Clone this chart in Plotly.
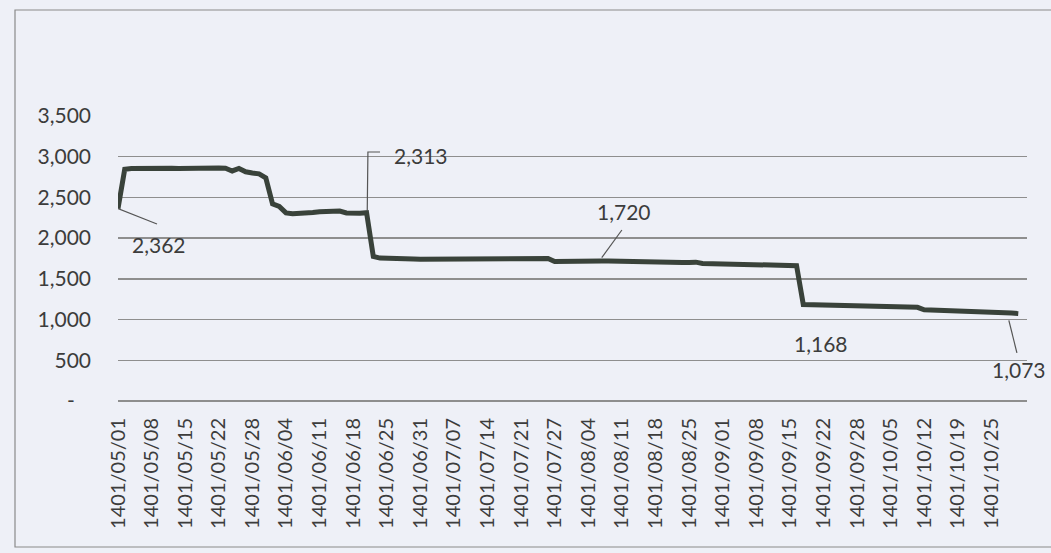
import plotly.graph_objects as go

# ---- data ----
tick_labels = ["1401/05/01", "1401/05/08", "1401/05/15", "1401/05/22", "1401/05/28",
               "1401/06/04", "1401/06/11", "1401/06/18", "1401/06/25", "1401/06/31",
               "1401/07/07", "1401/07/14", "1401/07/21", "1401/07/27", "1401/08/04",
               "1401/08/11", "1401/08/18", "1401/08/25", "1401/09/01", "1401/09/08",
               "1401/09/15", "1401/09/22", "1401/09/28", "1401/10/05", "1401/10/12",
               "1401/10/19", "1401/10/25"]
tick_step = 5

values = [
    2362, 2845, 2855, 2858, 2860, 2860, 2862, 2860, 2858, 2855,
    2858, 2860, 2862, 2862, 2860, 2860, 2858, 2825, 2855, 2815,
    2800, 2790, 2740, 2420, 2390, 2310, 2300, 2300, 2305, 2315,
    2325, 2328, 2330, 2332, 2310, 2300, 2305, 2313, 1775, 1755,
    1750, 1760, 1748, 1745, 1745, 1742, 1742, 1740, 1744, 1740,
    1738, 1740, 1742, 1738, 1735, 1738, 1740, 1742, 1740, 1738,
    1736, 1738, 1740, 1745, 1750, 1712, 1715, 1718, 1720, 1722,
    1720, 1718, 1720, 1718, 1715, 1715, 1712, 1710, 1712, 1710,
    1708, 1705, 1705, 1702, 1700, 1702, 1705, 1690, 1688, 1685,
    1672, 1670, 1668, 1670, 1668, 1668, 1665, 1665, 1663, 1665,
    1663, 1662, 1185, 1183, 1180, 1178, 1178, 1180, 1182, 1172,
    1170, 1168, 1166, 1165, 1163, 1160, 1158, 1157, 1155, 1150,
    1120, 1118, 1115, 1113, 1112, 1110, 1108, 1105, 1103, 1100,
    1095, 1090, 1088, 1080, 1073,
]

y_ticks = [0, 500, 1000, 1500, 2000, 2500, 3000, 3500]
y_tick_text = ["-\u00a0\u00a0\u00a0", "500", "1,000", "1,500", "2,000", "2,500", "3,000", "3,500"]

# labelled points: (index, label text, text x, text y)
labels = [
    (0, "2,362", 6.1, 1916),
    (37, "2,313", 45.1, 3021),
    (72, "1,720", 75.3, 2333),
    (102, "1,168", 104.7, 712),
    (134, "1,073", 134.1, 381),
]

idx = list(range(len(values)))
tickvals = [i * tick_step for i in range(len(tick_labels))]

FONT = "Lato, 'Open Sans', sans-serif"
TXT = "#3c3c3c"
GRID = "#8e8e8e"
BG = "#eef0f7"

W, H = 1051, 553

fig = go.Figure()
fig.add_trace(go.Scatter(
    x=idx, y=values, mode="lines",
    line=dict(color="#39423a", width=5),
    hoverinfo="skip", showlegend=False,
))

# leader lines
leaders = [
    [(0, 2362), (5.8, 2174)],
    [(39.0, 3058), (37.2, 3058), (37.1, 2340)],
    [(75.0, 2100), (72.0, 1760)],
    [(132.6, 990), (133.8, 590)],
]
shapes = []
for pts in leaders:
    path = "M " + " L ".join(f"{x},{y}" for x, y in pts)
    shapes.append(dict(type="path", path=path, xref="x", yref="y",
                       line=dict(color="#555555", width=1.2)))

# plot area in pixels
L, R, T, B = 118, 1027, 116, 401
def px(xp):
    return (xp - L) / (R - L)
def py(yp):
    return (B - yp) / (B - T)
shapes.append(dict(type="rect", xref="paper", yref="paper",
                   x0=px(15), x1=px(1075), y0=py(547), y1=py(10),
                   line=dict(color="#8a8a8a", width=1.2), layer="below"))

annotations = []
for i, t, tx, ty in labels:
    annotations.append(dict(x=tx, y=ty, xref="x", yref="y", text=t, showarrow=False,
                            font=dict(family=FONT, size=21, color=TXT)))

fig.update_layout(
    width=W, height=H,
    margin=dict(l=L, r=W - R, t=T, b=H - B),
    paper_bgcolor=BG, plot_bgcolor=BG,
    shapes=shapes, annotations=annotations,
    font=dict(family=FONT, size=21, color=TXT),
)
fig.update_xaxes(
    range=[0, 135.3], tickmode="array", tickvals=tickvals, ticktext=tick_labels,
    tickangle=-90, showgrid=False, zeroline=False, showline=False, ticks="",
    ticklabelstandoff=12, automargin=False,
    tickfont=dict(family=FONT, size=20, color=TXT),
)
fig.update_yaxes(
    range=[0, 3500], tickmode="array", tickvals=y_ticks, ticktext=y_tick_text,
    showgrid=True, gridcolor=GRID, gridwidth=1.3, zeroline=True, zerolinecolor=GRID,
    zerolinewidth=1.3, showline=False, ticks="", ticklabelstandoff=26, automargin=False,
    tickfont=dict(family=FONT, size=21, color=TXT),
)

fig.write_html(
    "out.html",
    config={"displayModeBar": False, "staticPlot": True},
    post_script=("document.body.style.margin='0';"
                 "document.body.style.overflow='hidden';"
                 "document.body.style.background='" + BG + "';"),
)
